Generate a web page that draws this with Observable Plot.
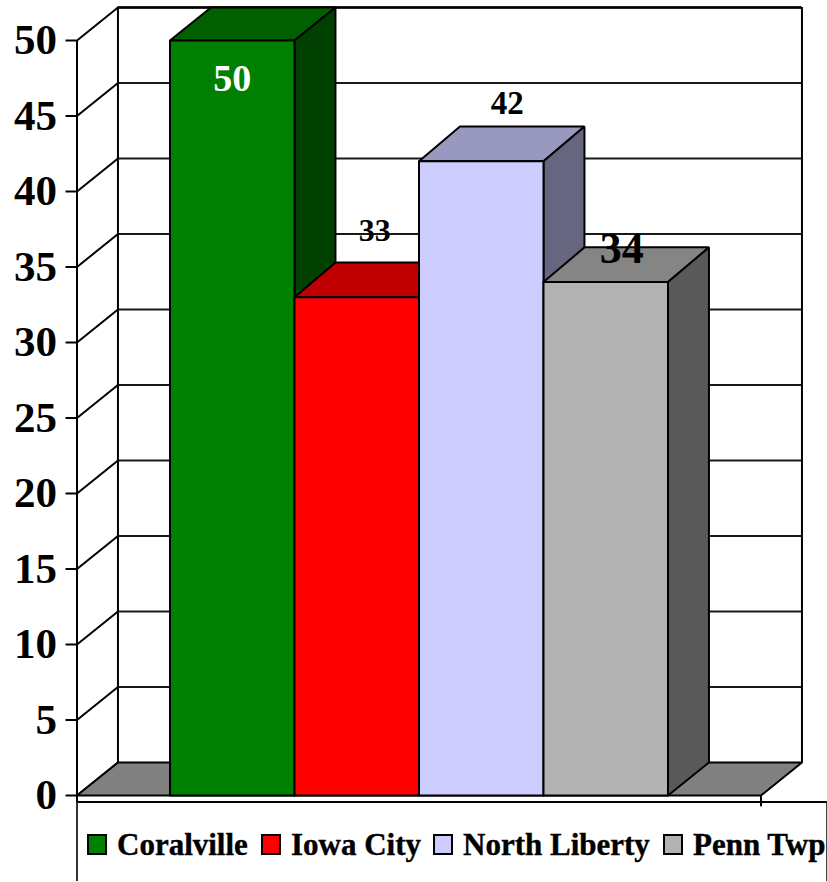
<!DOCTYPE html>
<html>
<head>
<meta charset="utf-8">
<script src="https://cdn.jsdelivr.net/npm/d3@7"></script>
<script src="https://cdn.jsdelivr.net/npm/@observablehq/plot@0.6"></script>
<style>
  html, body { margin: 0; padding: 0; background: #fff; }
  body { width: 827px; height: 882px; overflow: hidden; font-family: "Liberation Serif", serif; }
  svg { display: block; }
  #legend { position: relative; margin-top: -6px; margin-left: 76px; width: 748px; height: 78px;
    border-top: 2px solid #000; border-left: 2px solid #333; border-right: 1px solid #444; }
  .sw { position: absolute; top: 31px; width: 16px; height: 17px; border: 2px solid #000; }
  .lb { position: absolute; top: 24px; font-size: 31px; font-weight: bold; line-height: 36px; white-space: nowrap; color: #000; -webkit-text-stroke: 0.4px #000; }
</style>
</head>
<body>
<div id="chart"></div>
<div id="legend"></div>
<script>
const categories = ["Coralville", "Iowa City", "North Liberty", "Penn Twp"];
const values = [50, 33, 42, 34];
const yTicks = [0, 5, 10, 15, 20, 25, 30, 35, 40, 45, 50];
const frontColors = ["#008000", "#ff0000", "#ccccff", "#b2b2b2"];
const topColors = ["#006000", "#c00000", "#9999bf", "#858585"];
const sideColors = ["#004000", "#800000", "#666680", "#595959"];
const labelColors = ["#ffffff", "#000000", "#000000", "#000000"];
const labelSizes = [38, 32, 33, 44];
const labelDx = [0, 18, 26, 16];
const labelDy = [38, -66, -58, -33];
const legendSwatchLeft = [9, 183, 355, 585];
const legendTextLeft = [39, 213, 385, 615];

// Depth of the oblique projection, in data units of each axis
const depthX = 0.329, depthY = 2.185, barDepthY = 2.3;
const floorLeft = -0.747, floorRight = 4.747, yMax = 50;

const backX1 = floorLeft + depthX, backX2 = floorRight + depthX;

const faces = [];
function face(id, fill, pts) {
  pts.concat([pts[0]]).forEach(([x, y]) => faces.push({id, fill, x, y}));
}
face("floor", "#808080", [[floorLeft, 0], [floorRight, 0], [backX2, depthY], [backX1, depthY]]);
values.forEach((v, i) => {
  const a = i, b = i + 1;
  const backTop = Math.min(v + barDepthY, yMax + depthY);
  face("top" + i, topColors[i], [[a, v], [b, v], [b + depthX, backTop], [a + depthX, backTop]]);
  face("side" + i, sideColors[i], [[b, 0], [b + depthX, depthY], [b + depthX, backTop], [b, v]]);
  face("front" + i, frontColors[i], [[a, 0], [b, 0], [b, v], [a, v]]);
});
const facesFloor = faces.filter(d => d.id === "floor");
const facesBars = faces.filter(d => d.id !== "floor");

const bars = values.map((v, i) => ({i, v}));

const plot = Plot.plot({
  width: 827,
  height: 807,
  marginLeft: 76.5,
  marginRight: 0,
  marginTop: 0,
  marginBottom: 0,
  x: {type: "linear", domain: [0, 4], range: [169.5, 667.5], axis: null},
  y: {type: "linear", domain: [0, yMax], range: [795, 40]},
  color: {type: "identity"},
  style: {fontFamily: "'Liberation Serif', serif", fontWeight: "bold", background: "transparent", overflow: "visible"},
  marks: [
    // Back wall gridlines
    Plot.ruleY(yTicks.filter(t => t > 0), {y: t => t + depthY, x1: backX1, x2: backX2, stroke: "#000", strokeWidth: 2, strokeOpacity: 0.9}),
    Plot.ruleY([yMax], {y: t => t + depthY, x1: backX1, x2: backX2, stroke: "#000", strokeWidth: 2.5}),
    // Diagonal left wall gridlines
    Plot.link(yTicks, {x1: floorLeft, y1: t => t, x2: backX1, y2: t => t + depthY, stroke: "#000", strokeWidth: 2}),
    // Wall verticals
    Plot.ruleX([backX1, backX2], {y1: depthY, y2: yMax + depthY, stroke: "#000", strokeWidth: 2}),
    Plot.line(facesFloor, {x: "x", y: "y", z: "id", fill: "fill", stroke: "#000", strokeWidth: 2}),
    // Left axis line, running on into the legend box
    Plot.ruleX([floorLeft], {y1: -1, y2: yMax, stroke: "#000", strokeWidth: 2}),
    // Right floor tick
    Plot.ruleX([floorRight], {y1: -0.75, y2: 0, stroke: "#000", strokeWidth: 2}),
    Plot.line(facesBars, {x: "x", y: "y", z: "id", fill: "fill", stroke: "#000", strokeWidth: 2, strokeLinejoin: "miter"}),
    Plot.axisY({
      anchor: "left",
      ticks: yTicks,
      tickSize: 11,
      tickPadding: 9,
      fontSize: 43,
      strokeWidth: 2,
      stroke: "#000",
      fill: "#000",
      label: null
    }),
    ...bars.map(d => Plot.text([d], {
      x: p => p.i + 0.5,
      y: "v",
      text: p => String(p.v),
      fill: labelColors[d.i],
      fontSize: labelSizes[d.i],
      dx: labelDx[d.i],
      dy: labelDy[d.i]
    }))
  ]
});
document.getElementById("chart").append(plot);

const legend = document.getElementById("legend");
categories.forEach((c, i) => {
  const sw = document.createElement("span");
  sw.className = "sw";
  sw.style.left = legendSwatchLeft[i] + "px";
  sw.style.background = frontColors[i];
  const lb = document.createElement("span");
  lb.className = "lb";
  lb.style.left = legendTextLeft[i] + "px";
  lb.textContent = c;
  legend.append(sw, lb);
});
</script>
</body>
</html>
